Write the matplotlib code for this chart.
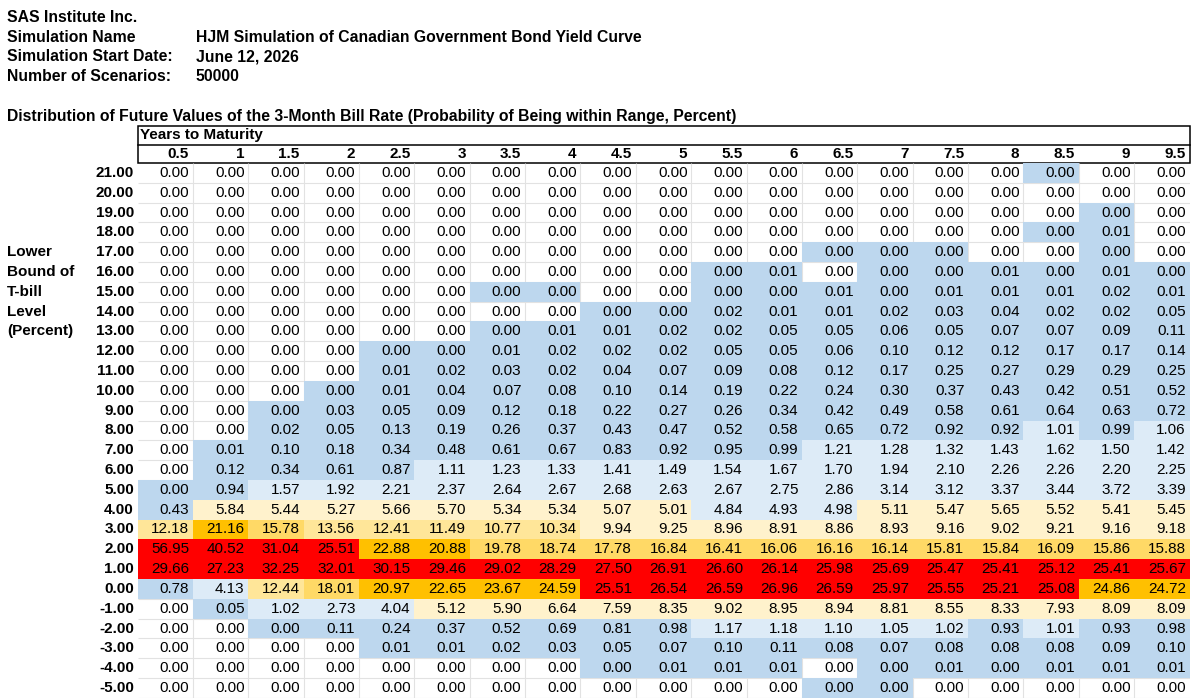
import numpy as np
import matplotlib
matplotlib.use("Agg")
import matplotlib.pyplot as plt
from matplotlib.colors import ListedColormap, BoundaryNorm
from matplotlib.patches import Rectangle

# ------------------------------------------------------------------
# Data read off the spreadsheet
# ------------------------------------------------------------------
maturities = [0.5, 1, 1.5, 2, 2.5, 3, 3.5, 4, 4.5, 5, 5.5, 6, 6.5, 7, 7.5, 8, 8.5, 9, 9.5]
levels = [21, 20, 19, 18, 17, 16, 15, 14, 13, 12, 11, 10, 9, 8, 7, 6, 5, 4, 3, 2, 1, 0,
          -1, -2, -3, -4, -5]

# 0.001 marks cells that are shaded (non-zero) but display as 0.00
prob = [
    [0, 0, 0, 0, 0, 0, 0, 0, 0, 0, 0, 0, 0, 0, 0, 0, 0.001, 0, 0],
    [0, 0, 0, 0, 0, 0, 0, 0, 0, 0, 0, 0, 0, 0, 0, 0, 0, 0, 0],
    [0, 0, 0, 0, 0, 0, 0, 0, 0, 0, 0, 0, 0, 0, 0, 0, 0, 0.001, 0],
    [0, 0, 0, 0, 0, 0, 0, 0, 0, 0, 0, 0, 0, 0, 0, 0, 0.001, 0.01, 0],
    [0, 0, 0, 0, 0, 0, 0, 0, 0, 0, 0, 0, 0.001, 0.001, 0.001, 0, 0, 0.001, 0],
    [0, 0, 0, 0, 0, 0, 0, 0, 0, 0, 0.001, 0.01, 0, 0.001, 0.001, 0.01, 0.001, 0.01, 0.001],
    [0, 0, 0, 0, 0, 0, 0.001, 0.001, 0, 0, 0.001, 0.001, 0.01, 0.001, 0.01, 0.01, 0.01, 0.02, 0.01],
    [0, 0, 0, 0, 0, 0, 0, 0, 0.001, 0.001, 0.02, 0.01, 0.01, 0.02, 0.03, 0.04, 0.02, 0.02, 0.05],
    [0, 0, 0, 0, 0, 0, 0.001, 0.01, 0.01, 0.02, 0.02, 0.05, 0.05, 0.06, 0.05, 0.07, 0.07, 0.09, 0.11],
    [0, 0, 0, 0, 0.001, 0.001, 0.01, 0.02, 0.02, 0.02, 0.05, 0.05, 0.06, 0.10, 0.12, 0.12, 0.17, 0.17, 0.14],
    [0, 0, 0, 0, 0.01, 0.02, 0.03, 0.02, 0.04, 0.07, 0.09, 0.08, 0.12, 0.17, 0.25, 0.27, 0.29, 0.29, 0.25],
    [0, 0, 0, 0.001, 0.01, 0.04, 0.07, 0.08, 0.10, 0.14, 0.19, 0.22, 0.24, 0.30, 0.37, 0.43, 0.42, 0.51, 0.52],
    [0, 0, 0.001, 0.03, 0.05, 0.09, 0.12, 0.18, 0.22, 0.27, 0.26, 0.34, 0.42, 0.49, 0.58, 0.61, 0.64, 0.63, 0.72],
    [0, 0, 0.02, 0.05, 0.13, 0.19, 0.26, 0.37, 0.43, 0.47, 0.52, 0.58, 0.65, 0.72, 0.92, 0.92, 1.01, 0.99, 1.06],
    [0, 0.01, 0.10, 0.18, 0.34, 0.48, 0.61, 0.67, 0.83, 0.92, 0.95, 0.99, 1.21, 1.28, 1.32, 1.43, 1.62, 1.50, 1.42],
    [0, 0.12, 0.34, 0.61, 0.87, 1.11, 1.23, 1.33, 1.41, 1.49, 1.54, 1.67, 1.70, 1.94, 2.10, 2.26, 2.26, 2.20, 2.25],
    [0.001, 0.94, 1.57, 1.92, 2.21, 2.37, 2.64, 2.67, 2.68, 2.63, 2.67, 2.75, 2.86, 3.14, 3.12, 3.37, 3.44, 3.72, 3.39],
    [0.43, 5.84, 5.44, 5.27, 5.66, 5.70, 5.34, 5.34, 5.07, 5.01, 4.84, 4.93, 4.98, 5.11, 5.47, 5.65, 5.52, 5.41, 5.45],
    [12.18, 21.16, 15.78, 13.56, 12.41, 11.49, 10.77, 10.34, 9.94, 9.25, 8.96, 8.91, 8.86, 8.93, 9.16, 9.02, 9.21, 9.16, 9.18],
    [56.95, 40.52, 31.04, 25.51, 22.88, 20.88, 19.78, 18.74, 17.78, 16.84, 16.41, 16.06, 16.16, 16.14, 15.81, 15.84, 16.09, 15.86, 15.88],
    [29.66, 27.23, 32.25, 32.01, 30.15, 29.46, 29.02, 28.29, 27.50, 26.91, 26.60, 26.14, 25.98, 25.69, 25.47, 25.41, 25.12, 25.41, 25.67],
    [0.78, 4.13, 12.44, 18.01, 20.97, 22.65, 23.67, 24.59, 25.51, 26.54, 26.59, 26.96, 26.59, 25.97, 25.55, 25.21, 25.08, 24.86, 24.72],
    [0, 0.05, 1.02, 2.73, 4.04, 5.12, 5.90, 6.64, 7.59, 8.35, 9.02, 8.95, 8.94, 8.81, 8.55, 8.33, 7.93, 8.09, 8.09],
    [0, 0, 0.001, 0.11, 0.24, 0.37, 0.52, 0.69, 0.81, 0.98, 1.17, 1.18, 1.10, 1.05, 1.02, 0.93, 1.01, 0.93, 0.98],
    [0, 0, 0, 0, 0.01, 0.01, 0.02, 0.03, 0.05, 0.07, 0.10, 0.11, 0.08, 0.07, 0.08, 0.08, 0.08, 0.09, 0.10],
    [0, 0, 0, 0, 0, 0, 0, 0, 0.001, 0.01, 0.01, 0.01, 0, 0.001, 0.01, 0.001, 0.01, 0.01, 0.01],
    [0, 0, 0, 0, 0, 0, 0, 0, 0, 0, 0, 0, 0.001, 0.001, 0, 0, 0, 0, 0],
]

info_labels = ["Simulation Name", "Simulation Start Date:", "Number of Scenarios:"]
info_values = ["HJM Simulation of Canadian Government Bond Yield Curve", "June 12, 2026", "50000"]
side_label = ["Lower", "Bound of", "T-bill", "Level", "(Percent)"]

# conditional-format bands (white cells are left transparent so the grid shows)
bounds = [-1, 0.0005, 1, 5, 10, 15, 20, 25, 101]
band_colors = [(1, 1, 1, 0), "#BDD7EE", "#DDEBF7", "#FFF2CC", "#FFE699",
               "#FFD966", "#FFC000", "#FF0000"]

# ------------------------------------------------------------------
# Layout (pixels)
# ------------------------------------------------------------------
W, H = 1200, 699
TAB_LEFT, TAB_RIGHT = 137.5, 1189.5
TAB_TOP, ROW_H = 163.0, 19.81
n_rows, n_cols = len(levels), len(maturities)
TAB_BOTTOM = TAB_TOP + n_rows * ROW_H
COL_W = (TAB_RIGHT - TAB_LEFT) / n_cols
HEAD_FS = 11.3

plt.rcParams["font.family"] = ["Liberation Sans", "DejaVu Sans"]

fig = plt.figure(figsize=(12, 6.99), dpi=100)
ax = fig.add_axes([0, 0, 1, 1])
ax.set_xlim(0, W)
ax.set_ylim(H, 0)
ax.axis("off")

# header block
ax.text(7, 17.5, "SAS Institute Inc.", fontsize=HEAD_FS, weight="bold", va="center")
for k, (lab, val) in enumerate(zip(info_labels, info_values)):
    y = 37 + k * 19.6
    ax.text(7, y, lab, fontsize=HEAD_FS, weight="bold", va="center")
    ax.text(196, y, val, fontsize=HEAD_FS, weight="bold", va="center")
ax.text(7, 116, "Distribution of Future Values of the 3-Month Bill Rate "
        "(Probability of Being within Range, Percent)",
        fontsize=HEAD_FS, weight="bold", va="center")

# column header box
ax.add_patch(Rectangle((TAB_LEFT, 126), TAB_RIGHT - TAB_LEFT, TAB_TOP - 126,
                       fill=False, edgecolor="black", lw=1.1, zorder=3))
ax.plot([TAB_LEFT, TAB_RIGHT], [144.5, 144.5], color="black", lw=1.1, zorder=3)
ax.text(TAB_LEFT + 3, 135.5, "Years to Maturity", fontsize=11, weight="bold", va="center")
for j, m in enumerate(maturities):
    ax.text(TAB_LEFT + (j + 1) * COL_W - 4, 154, f"{m:g}", fontsize=11,
            weight="bold", ha="right", va="center")

# row labels
for i, lvl in enumerate(levels):
    ax.text(TAB_LEFT - 3.5, TAB_TOP + (i + 0.5) * ROW_H, f"{lvl:.2f}", fontsize=11,
            weight="bold", ha="right", va="center")
for k, s in enumerate(side_label):
    ax.text(7, TAB_TOP + (k + 4.5) * ROW_H, s, fontsize=11, weight="bold", va="center")

# ------------------------------------------------------------------
# Table body
# ------------------------------------------------------------------
tab = fig.add_axes([TAB_LEFT / W, 1 - TAB_BOTTOM / H,
                    (TAB_RIGHT - TAB_LEFT) / W, (TAB_BOTTOM - TAB_TOP) / H])
tab.set_xlim(0, n_cols)
tab.set_ylim(n_rows, 0)
tab.axis("off")

# sheet gridlines (visible only through unshaded cells)
tab.hlines(np.arange(1, n_rows + 1), 0, n_cols, color="#E2E2E2", lw=0.8, zorder=0)
tab.vlines(np.arange(1, n_cols), 0, n_rows, color="#E2E2E2", lw=0.8, zorder=0)

cmap = ListedColormap(band_colors)
norm = BoundaryNorm(bounds, cmap.N)
values = np.array(prob)
tab.pcolormesh(values, cmap=cmap, norm=norm, zorder=1)

for i in range(n_rows):
    for j in range(n_cols):
        tab.text(j + 1 - 0.065, i + 0.5, f"{values[i, j]:.2f}", fontsize=11,
                 ha="right", va="center", zorder=2)

fig.savefig("out.png", dpi=100)
